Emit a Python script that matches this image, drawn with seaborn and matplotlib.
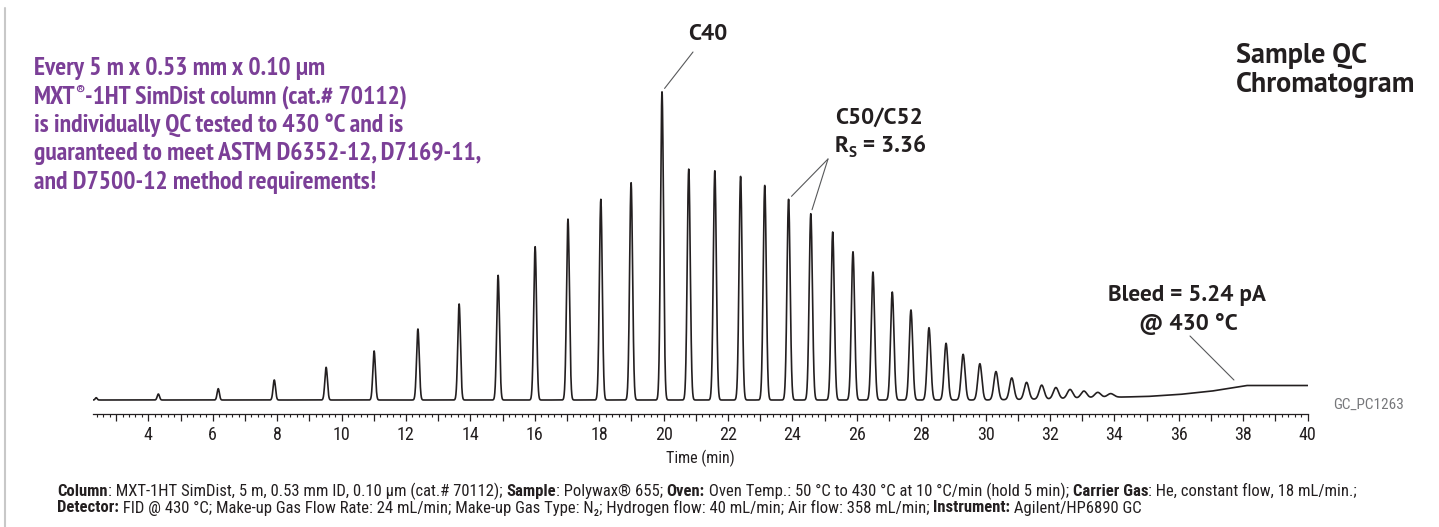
"""
Sample QC chromatogram, MXT-1HT SimDist column (Polywax 655).
Trace is rebuilt from peak apex times/heights read off the reference.
"""
import numpy as np
import pandas as pd
import matplotlib
matplotlib.use("Agg")
import matplotlib.pyplot as plt
from matplotlib.ticker import MultipleLocator, FuncFormatter
import seaborn as sns

W, H = 1439, 527
INK = "#231F20"
PURPLE = "#7B3F97"
GREY = "#77787B"
LEADER = "#58595B"

# peak apex retention times (min) and heights (arbitrary units above baseline)
peak_time = [2.38, 4.31, 6.17, 7.91, 9.52, 11.01, 12.37, 13.65, 14.86, 16.01,
             17.03, 18.05, 18.99, 19.95, 20.78, 21.59, 22.39, 23.14, 23.88, 24.57,
             25.25, 25.88, 26.50, 27.10, 27.68, 28.24, 28.77, 29.30, 29.82, 30.32,
             30.81, 31.27, 31.74, 32.18, 32.62, 33.05, 33.48, 33.88]
peak_height = [2.3, 6.0, 11.3, 20.0, 32.7, 49.0, 71.0, 96.0, 124.7, 153.3,
               181.0, 200.7, 217.3, 308.3, 231.0, 229.3, 223.7, 214.7, 200.7, 186.3,
               168.0, 148.3, 128.0, 108.0, 90.0, 72.3, 56.7, 45.7, 36.3, 28.3,
               21.7, 17.0, 14.0, 11.3, 9.0, 7.0, 5.3, 3.7]
peak_sigma = [0.030, 0.035, 0.035, 0.038, 0.040, 0.040, 0.042, 0.042, 0.043, 0.044,
              0.045, 0.045, 0.046, 0.046, 0.047, 0.047, 0.048, 0.048, 0.049, 0.050,
              0.050, 0.051, 0.052, 0.053, 0.054, 0.056, 0.058, 0.060, 0.062, 0.065,
              0.068, 0.072, 0.076, 0.080, 0.085, 0.090, 0.095, 0.100]

# column bleed baseline
bleed_time = [2.29, 30.0, 32.0, 34.0, 35.0, 36.0, 37.0, 38.1, 40.0]
bleed_level = [0.0, 0.0, 1.0, 2.8, 3.5, 5.5, 8.8, 14.5, 14.5]

x_ticks = list(range(4, 41, 2))

t = np.linspace(2.29, 40.0, 9000)
signal = np.interp(t, bleed_time, bleed_level)
for tp, hp, sp in zip(peak_time, peak_height, peak_sigma):
    signal = signal + hp * np.exp(-0.5 * ((t - tp) / sp) ** 2)
trace = pd.DataFrame({"time": t, "signal": signal})

sns.set_theme(style="white")
COND = ["Roboto Condensed", "DejaVu Sans"]
BOLD = ["PT Sans", "DejaVu Sans"]
NARROW = ["PT Sans Narrow", "PT Sans", "DejaVu Sans"]
plt.rcParams["font.family"] = COND


def P(x, y):
    """figure pixel (from top-left) -> figure fraction"""
    return x / W, 1 - y / H


fig = plt.figure(figsize=(W / 100, H / 100), dpi=100)
renderer = fig.canvas.get_renderer()


def width_of(s, **kw):
    tmp = fig.text(0, 0, s, **kw)
    w = tmp.get_window_extent(renderer).width
    tmp.remove()
    return w


def fit_size(s, target, size0=12, **kw):
    return size0 * target / width_of(s, fontsize=size0, **kw)


def run_text(x, y, parts, size, **kw):
    """left-to-right text made of (text, bold, scale, dy_px) pieces"""
    for s, bold, scale, dy in parts:
        tt = fig.text(*P(x, y + dy), s, ha="left", va="baseline", fontsize=size * scale,
                      fontweight="bold" if bold else "normal", **kw)
        x += tt.get_window_extent(renderer).width


ax = fig.add_axes([93.3 / W, 1 - 414 / H, (1307.7 - 93.3) / W, (414 - 60) / H])
sns.lineplot(data=trace, x="time", y="signal", ax=ax, color=INK, lw=1.2,
             estimator=None, sort=False)
ax.set_xlim(2.29, 40.0)
ax.set_ylim(-14, 340)
for s in ["top", "right", "left"]:
    ax.spines[s].set_visible(False)
ax.spines["bottom"].set_color(INK)
ax.spines["bottom"].set_linewidth(0.9)
ax.set_yticks([])
ax.xaxis.set_major_locator(MultipleLocator(1))
ax.xaxis.set_minor_locator(MultipleLocator(0.2))
ax.xaxis.set_major_formatter(FuncFormatter(
    lambda v, p: f"{int(round(v))}" if int(round(v)) in x_ticks else ""))
ax.tick_params(axis="x", which="major", direction="out", length=5, width=0.9,
               color=INK, labelsize=13, labelcolor=INK, pad=3.5, bottom=True)
ax.tick_params(axis="x", which="minor", direction="out", length=2.5, width=0.8,
               color=INK, bottom=True)
ax.set_xlabel("Time (min)", fontsize=11.5, color=INK, labelpad=4)
ax.set_ylabel("")

# leader lines to labelled peaks
i40 = peak_time.index(19.95)
i50 = peak_time.index(23.88)
i52 = peak_time.index(24.57)
lp = dict(arrowstyle="-", color=LEADER, lw=0.8, shrinkA=0, shrinkB=3)
ax.annotate("", xy=(peak_time[i40], peak_height[i40]), xytext=P(693, 52),
            textcoords="figure fraction", arrowprops=lp)
ax.annotate("", xy=(peak_time[i50], peak_height[i50]), xytext=P(828, 159),
            textcoords="figure fraction", arrowprops=lp)
ax.annotate("", xy=(peak_time[i52], peak_height[i52]), xytext=P(828, 159),
            textcoords="figure fraction", arrowprops=lp)
tb = 37.71
ax.annotate("", xy=(tb, np.interp(tb, bleed_time, bleed_level) + 7.5), xytext=P(1190, 336),
            textcoords="figure fraction",
            arrowprops=dict(arrowstyle="-", color=LEADER, lw=0.8, shrinkA=0, shrinkB=0))

# corner title
tsize = fit_size("Chromatogram", 180, family=BOLD, fontweight="bold")
title = dict(family=BOLD, fontweight="bold", color=INK, fontsize=tsize)
fig.text(*P(1236, 56), "Sample QC", ha="left", va="center", **title)
fig.text(*P(1236, 85), "Chromatogram", ha="left", va="center", **title)

# peak / bleed labels
bsize = fit_size("Bleed = 5.24 pA", 158, family=BOLD, fontweight="bold")
big = dict(family=BOLD, fontweight="bold", color=INK, fontsize=bsize)
fig.text(*P(708, 35), "C40", ha="center", va="center", **big)
fig.text(*P(835, 118), "C50/C52", ha="left", va="center", **big)
fig.text(*P(1187, 296), "Bleed = 5.24 pA", ha="center", va="center", **big)
fig.text(*P(1188, 324), "@ 430 °C", ha="center", va="center", **big)
run_text(835, 152, [("R", True, 1.0, 0), ("S", True, 0.65, 5), (" = 3.36", True, 1.0, 0)],
         bsize, family=BOLD, color=INK)

fig.text(*P(1333, 405), "GC_PC1263", ha="left", va="center", fontsize=11, color=GREY)

# purple claim
claim = [[("Every 5 m x 0.53 mm x 0.10 µm", True, 1.0, 0)],
         [("MXT", True, 1.0, 0), ("®", True, 0.6, -8), ("-1HT SimDist column (cat.# 70112)", True, 1.0, 0)],
         [("is individually QC tested to 430 °C and is", True, 1.0, 0)],
         [("guaranteed to meet ASTM D6352-12, D7169-11,", True, 1.0, 0)],
         [("and D7500-12 method requirements!", True, 1.0, 0)]]
psize = fit_size(claim[3][0][0], 445, family=NARROW, fontweight="bold")
for k, parts in enumerate(claim):
    run_text(34, 75.5 + 28.3 * k, parts, psize, family=NARROW, color=PURPLE)

# footer
footer = [
    [("Column", True, 1, 0), (": MXT-1HT SimDist, 5 m, 0.53 mm ID, 0.10 µm (cat.# 70112); ", False, 1, 0),
     ("Sample", True, 1, 0), (": Polywax® 655; ", False, 1, 0), ("Oven:", True, 1, 0),
     (" Oven Temp.: 50 °C to 430 °C at 10 °C/min (hold 5 min); ", False, 1, 0),
     ("Carrier Gas", True, 1, 0), (": He, constant flow, 18 mL/min.;", False, 1, 0)],
    [("Detector:", True, 1, 0), (" FID @ 430 °C; Make-up Gas Flow Rate: 24 mL/min; Make-up Gas Type: N₂; "
                                 "Hydrogen flow: 40 mL/min; Air flow: 358 mL/min; ", False, 1, 0),
     ("Instrument:", True, 1, 0), (" Agilent/HP6890 GC", False, 1, 0)],
]
w0 = sum(width_of(s, fontsize=10, fontweight="bold" if b else "normal")
         for line in footer for s, b, _, _ in line)
fsize = 10 * (1338 + 1061) / w0 * 0.99
for k, parts in enumerate(footer):
    run_text(57, 496 + 16.5 * k, parts, fsize, color=INK)

fig.add_artist(plt.Line2D([5 / W, 5 / W], [0, 1 - 8 / H], transform=fig.transFigure,
                          color="#C8C8C8", lw=1.5))

fig.savefig("out.png", dpi=100)
